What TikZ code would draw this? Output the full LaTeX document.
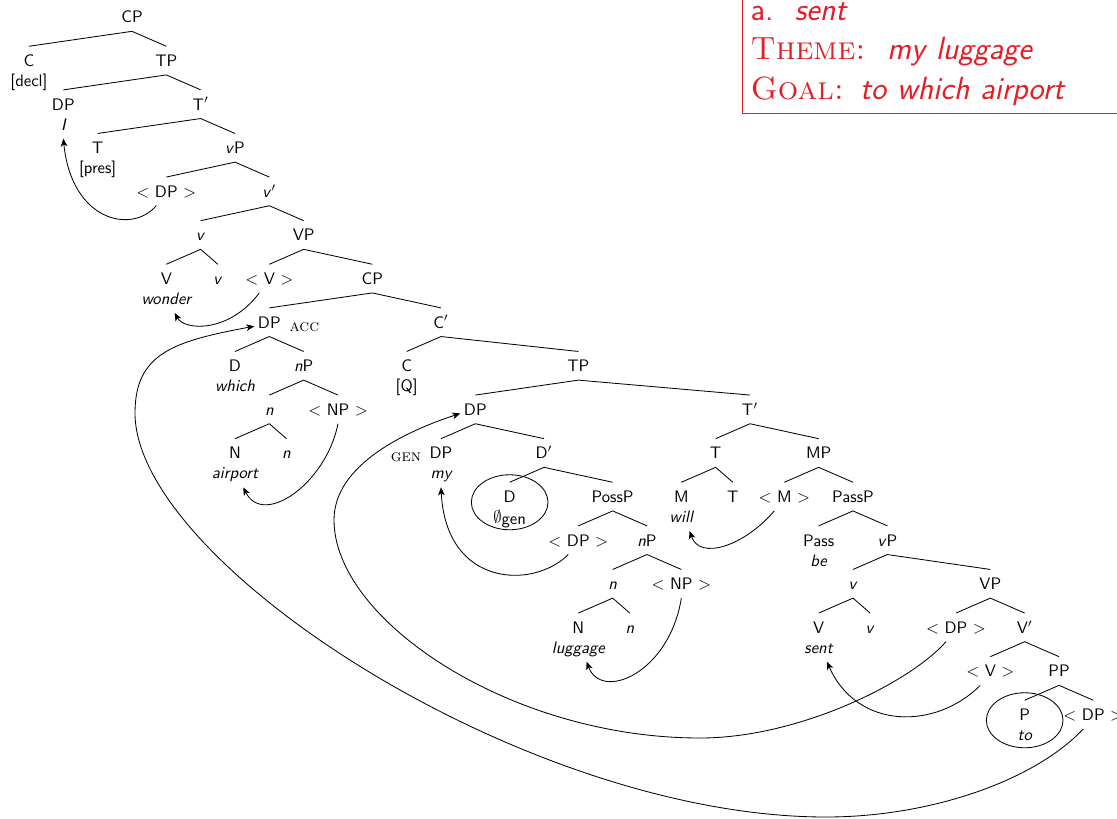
\documentclass[tikz,border=0pt]{standalone}
\usepackage{amsmath}
\usepackage{amssymb}
\usepackage{color}
\usepackage{tikz}
\usetikzlibrary{shapes,arrows,arrows.meta,positioning}
\definecolor{notered}{RGB}{228,30,38}
\tikzstyle{cat} = [inner sep=2pt, text height=9.9pt, text depth=2.9pt, font=\sffamily]
\tikzstyle{word} = [cat, font=\sffamily\itshape]
\tikzstyle{feat} = [cat, font=\rmfamily\scshape]
\tikzstyle{ring} = [ellipse, draw, line width=0.5pt, minimum width=46pt, minimum height=33pt, inner sep=0pt]
\tikzstyle{branch} = [draw, line width=0.5pt]
\tikzstyle{move} = [draw, line width=0.5pt, -{Stealth[length=4.8pt, width=4pt, inset=1.3pt]}]
\tikzstyle{notebox} = [draw=notered, text=notered, line width=0.6pt, align=left,
text width=220pt, inner xsep=5pt, inner ysep=4.5pt, font=\fontsize{19.3}{23.7}\selectfont\sffamily]

\begin{document}
\begin{tikzpicture}[x=0.6pt, y=-0.6pt, node distance=26.16pt and 20.6pt, on grid]
\useasboundingbox (0,0) rectangle (1117,818);
% Place nodes: matrix clause
\node [cat] (cp0) at (132,17) {CP};
\node [cat, below left=26.16pt and 61.8pt of cp0] (c0) {C};
\node [cat, below=12pt of c0] (decl) {[decl]};
\node [cat, below right=of cp0] (tp0) {TP};
\node [cat, below left=26.16pt and 61.8pt of tp0] (dpi) {DP};
\node [word, below=12pt of dpi] (wi) {I};
\node [cat, below right=of tp0] (tb0) {T$'$};
\node [cat, below left=26.16pt and 61.8pt of tb0] (t0) {T};
\node [cat, below=12pt of t0] (pres) {[pres]};
\node [cat, below right=of tb0] (vp0) {\textit{v}P};
\node [cat, below left=26.16pt and 41.2pt of vp0] (dptr0) {$<$ DP $>$};
\node [cat, below right=of vp0] (vb0) {\textit{v}$'$};
\node [cat, below left=26.16pt and 41.2pt of vb0] (vv0) {\textit{v}};
\node [cat, below right=of vb0] (vp1) {VP};
\node [cat, below left=of vv0] (vwon) {V};
\node [word, below=12pt of vwon] (wwon) {wonder};
\node [cat, below right=26.16pt and 10.3pt of vv0] (vs0) {\textit{v}};
\node [cat, below left=of vp1] (vtr0) {$<$ V $>$};
\node [cat, below right=26.16pt and 41.2pt of vp1] (cp1) {CP};
% embedded question
\node [cat, below left=26.16pt and 61.8pt of cp1] (dpacc) {DP};
\node [feat, below right=1.8pt and 21pt of dpacc] (acc) {acc};
\node [cat, below right=26.16pt and 41.2pt of cp1] (cb1) {C$'$};
\node [cat, below left=of dpacc] (dwh) {D};
\node [word, below=12pt of dwh] (wwh) {which};
\node [cat, below right=of dpacc] (np0) {\textit{n}P};
\node [cat, below left=of np0] (n0) {\textit{n}};
\node [cat, below right=of np0] (nptr0) {$<$ NP $>$};
\node [cat, below left=of n0] (nair) {N};
\node [word, below=12pt of nair] (wair) {airport};
\node [cat, below right=26.16pt and 10.3pt of n0] (n1) {\textit{n}};
\node [cat, below left=of cb1] (cq) {C};
\node [cat, below=12pt of cq] (q) {[Q]};
\node [cat, below right=26.16pt and 82.4pt of cb1] (tp1) {TP};
% subject DP
\node [cat, below left=26.16pt and 61.8pt of tp1] (dp1) {DP};
\node [cat, below left=of dp1] (dpmy) {DP};
\node [feat, below left=1.8pt and 21pt of dpmy] (gen) {gen};
\node [word, below=12pt of dpmy] (wmy) {my};
\node [cat, below right=26.16pt and 41.2pt of dp1] (db1) {D$'$};
\node [cat, below left=of db1] (dz) {D};
\node [cat, below=12pt of dz] (wz) {$\emptyset$\raisebox{-1.3pt}{gen}};
\node [ring, below=3.4pt of dz] (ringd) {};
\node [cat, below right=26.16pt and 41.2pt of db1] (possp) {PossP};
\node [cat, below left=of possp] (dptr1) {$<$ DP $>$};
\node [cat, below right=of possp] (np1) {\textit{n}P};
\node [cat, below left=of np1] (n2) {\textit{n}};
\node [cat, below right=of np1] (nptr1) {$<$ NP $>$};
\node [cat, below left=of n2] (nlug) {N};
\node [word, below=12pt of nlug] (wlug) {luggage};
\node [cat, below right=26.16pt and 10.3pt of n2] (n3) {\textit{n}};
% T' and the passive vP
\node [cat, below right=26.16pt and 103pt of tp1] (tb1) {T$'$};
\node [cat, below left=of tb1] (t1) {T};
\node [cat, below left=of t1] (mwill) {M};
\node [word, below=12pt of mwill] (wwill) {will};
\node [cat, below right=26.16pt and 10.3pt of t1] (t2) {T};
\node [cat, below right=26.16pt and 41.2pt of tb1] (mp) {MP};
\node [cat, below left=of mp] (mtr) {$<$ M $>$};
\node [cat, below right=of mp] (passp) {PassP};
\node [cat, below left=of passp] (pass) {Pass};
\node [word, below=12pt of pass] (wbe) {be};
\node [cat, below right=of passp] (vp2) {\textit{v}P};
\node [cat, below left=of vp2] (vv1) {\textit{v}};
\node [cat, below left=of vv1] (vsent) {V};
\node [word, below=12pt of vsent] (wsent) {sent};
\node [cat, below right=26.16pt and 10.3pt of vv1] (vs1) {\textit{v}};
\node [cat, below right=26.16pt and 61.8pt of vp2] (vp3) {VP};
\node [cat, below left=of vp3] (dptr2) {$<$ DP $>$};
\node [cat, below right=of vp3] (vb1) {V$'$};
\node [cat, below left=of vb1] (vtr1) {$<$ V $>$};
\node [cat, below right=of vb1] (pp) {PP};
\node [cat, below left=of pp] (pto) {P};
\node [word, below=12pt of pto] (wto) {to};
\node [ring, below=3.4pt of pto] (ringp) {};
\node [cat, below right=of pp] (dptr3) {$<$ DP $>$};
% theta grid
\node [notebox, anchor=south west] (note) at (741.7,113.5)
{a.\ \ \textit{sent}\\
{\rmfamily\scshape Theme:}\, \textit{my luggage}\\
{\rmfamily\scshape Goal:} \textit{to which airport}};
% Draw branches
\path [branch] (c0.north) -- (cp0.south) -- (tp0.north);
\path [branch] (dpi.north) -- (tp0.south) -- (tb0.north);
\path [branch] (t0.north) -- (tb0.south) -- (vp0.north);
\path [branch] (dptr0.north) -- (vp0.south) -- (vb0.north);
\path [branch] (vv0.north) -- (vb0.south) -- (vp1.north);
\path [branch] (vwon.north) -- (vv0.south) -- (vs0.north);
\path [branch] (vtr0.north) -- (vp1.south) -- (cp1.north);
\path [branch] (dpacc.north) -- (cp1.south) -- (cb1.north);
\path [branch] (dwh.north) -- (dpacc.south) -- (np0.north);
\path [branch] (n0.north) -- (np0.south) -- (nptr0.north);
\path [branch] (nair.north) -- (n0.south) -- (n1.north);
\path [branch] (cq.north) -- (cb1.south) -- (tp1.north);
\path [branch] (dp1.north) -- (tp1.south) -- (tb1.north);
\path [branch] (dpmy.north) -- (dp1.south) -- (db1.north);
\path [branch] (dz.north) -- (db1.south) -- (possp.north);
\path [branch] (dptr1.north) -- (possp.south) -- (np1.north);
\path [branch] (n2.north) -- (np1.south) -- (nptr1.north);
\path [branch] (nlug.north) -- (n2.south) -- (n3.north);
\path [branch] (t1.north) -- (tb1.south) -- (mp.north);
\path [branch] (mwill.north) -- (t1.south) -- (t2.north);
\path [branch] (mtr.north) -- (mp.south) -- (passp.north);
\path [branch] (pass.north) -- (passp.south) -- (vp2.north);
\path [branch] (vv1.north) -- (vp2.south) -- (vp3.north);
\path [branch] (vsent.north) -- (vv1.south) -- (vs1.north);
\path [branch] (dptr2.north) -- (vp3.south) -- (vb1.north);
\path [branch] (vtr1.north) -- (vb1.south) -- (pp.north);
\path [branch] (pto.north) -- (pp.south) -- (dptr3.north);
% Draw movement
\path [move] (dptr0.235) .. controls +(-25,29) and +(8,82) .. (wi.south);
\path [move] (vtr0.235) .. controls +(-30,40) and +(10,18) .. (wwon.300);
\path [move] (dptr3.235) .. controls +(-49,52) and +(104,0) .. (826,817)
  .. controls +(-300,0) and +(0,150) .. (135,413)
  .. controls +(0,-60) and +(-80,15) .. (dpacc.195);
\path [move] (nptr0.south) .. controls +(-12,60) and +(20,40) .. (wair.300);
\path [move] (dptr2.235) .. controls +(-35,40) and +(100,0) .. (700,738)
  .. controls +(-190,0) and +(0,100) .. (334,520)
  .. controls +(0,-55) and +(-55,18) .. (dp1.195);
\path [move] (dptr1.235) .. controls +(-35,35) and +(5,100) .. (wmy.south);
\path [move] (mtr.235) .. controls +(-30,35) and +(10,30) .. (wwill.300);
\path [move] (nptr1.south) .. controls +(-12,75) and +(15,40) .. (wlug.300);
\path [move] (vtr1.235) .. controls +(-45,45) and +(30,68) .. (wsent.300);
\end{tikzpicture}
\end{document}
